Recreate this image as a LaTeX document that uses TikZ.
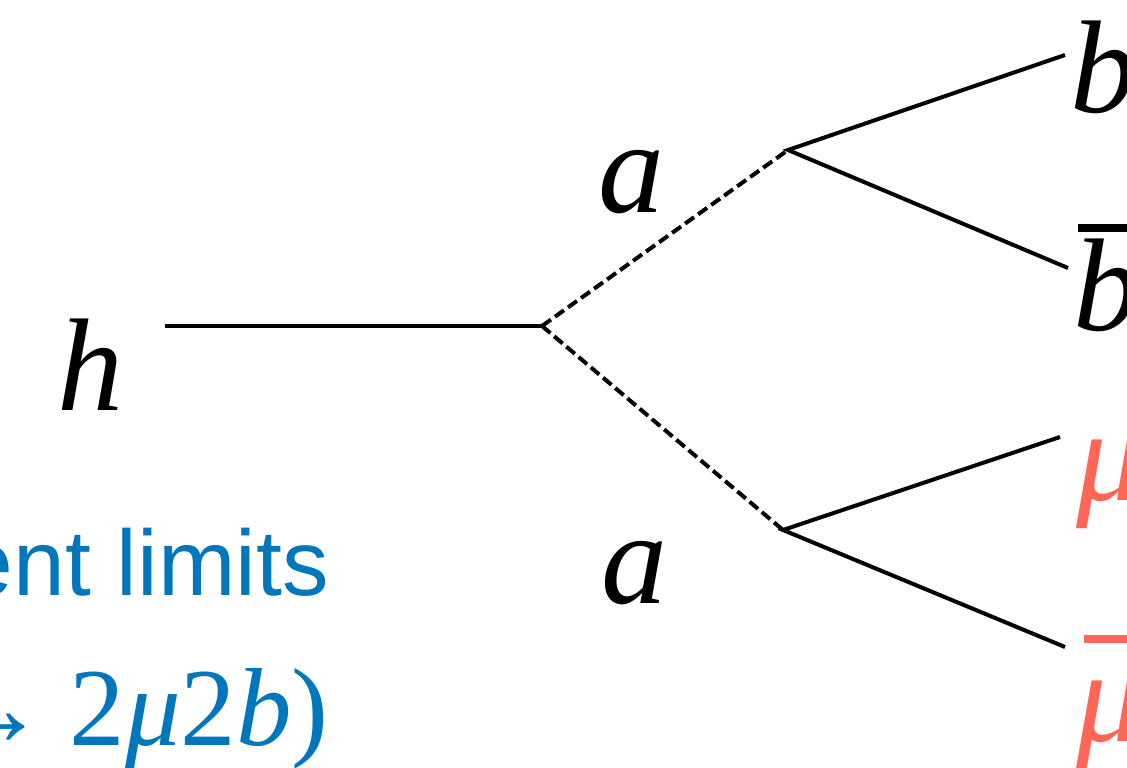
\documentclass[tikz,border=0pt]{standalone}
\usepackage{fontspec}
\setmainfont{Liberation Serif}
\newfontfamily\lsans{Liberation Sans}
\definecolor{dblue}{HTML}{0077BB}
\definecolor{dred}{HTML}{FF6655}
\tikzset{
  fline/.style={line width=4, line cap=butt},
  sline/.style={line width=4, dash pattern=on 11 off 5},
  lbl/.style={inner sep=0, anchor=base west, font=\fontsize{132}{132}\selectfont\itshape},
}
\newcommand{\barred}[2]{\rlap{\hspace{#2}\rule[0.74em]{0.55em}{0.065em}}#1}
\begin{document}
\begin{tikzpicture}[x=1pt,y=-1pt]
\useasboundingbox (0,0) rectangle (1127,768);
\coordinate (hs) at (165,326);
\coordinate (v0) at (542,326);
\coordinate (v1) at (788,150);
\coordinate (v2) at (783,530);
\coordinate (e1) at (1065,55);
\coordinate (e2) at (1068,268);
\coordinate (e3) at (1060,437);
\coordinate (e4) at (1065,647);
\draw[fline] (hs) -- (v0);
\draw[sline] (v0) -- (v1);
\draw[sline] (v0) -- (v2);
\draw[fline] (e1) -- (v1) -- (e2);
\draw[fline] (e3) -- (v2) -- (e4);
\node[lbl] (h) at (57,410) {h};
\node[lbl] (a1) at (598,212) {a};
\node[lbl] (a2) at (601,603) {a};
\node[lbl] (b) at (1070,112) {b};
\node[lbl] (bb) at (1073,330) {\barred{b}{0.04em}};
\node[lbl, text=dred] (mu) at (1076,500) {μ};
\node[lbl, text=dred] (mub) at (1076,741) {\barred{μ}{0.06em}};
\node[inner sep=0, anchor=base east, text=dblue, font=\fontsize{93}{93}\selectfont\lsans] (lim) at (329,595) {ent limits};
\node[inner sep=0, anchor=base east, text=dblue, font=\fontsize{111}{111}\selectfont] (proc) at (329,745) {→\hspace{0.2em}2\textit{μ}2\textit{b})};
\end{tikzpicture}
\end{document}
